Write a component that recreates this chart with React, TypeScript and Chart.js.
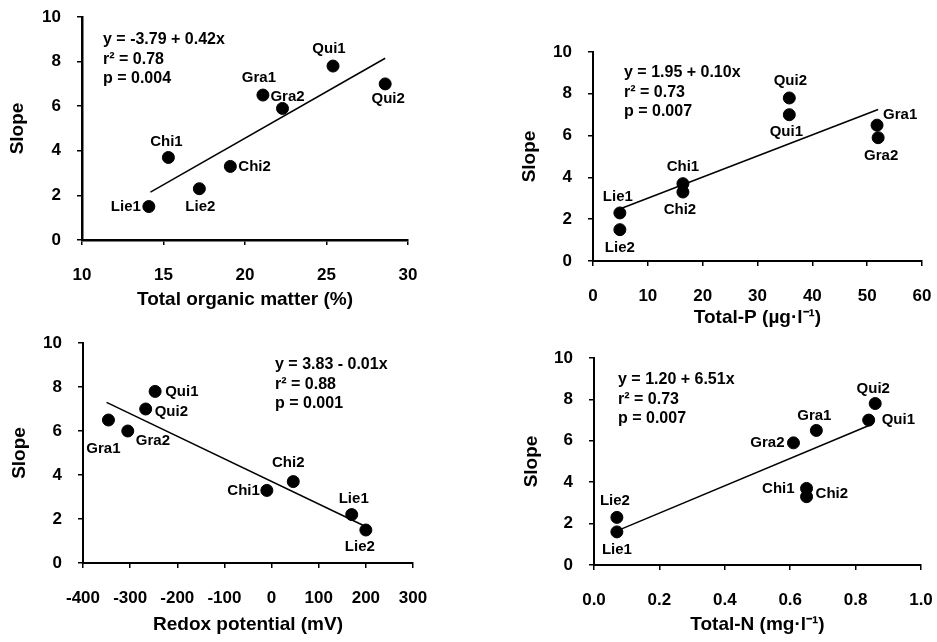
import React, { useEffect, useRef } from "react";
import { Chart, registerables } from "chart.js";

Chart.register(...registerables);

// ---------- Data ----------
// Panel A: Total organic matter
const omNames = ["Lie1", "Chi1", "Lie2", "Chi2", "Gra1", "Gra2", "Qui1", "Qui2"];
const omX = [14.1, 15.3, 17.2, 19.1, 21.1, 22.3, 25.4, 28.6];
const omSlope = [1.5, 3.7, 2.3, 3.3, 6.5, 5.9, 7.8, 7.0];
const omFitX = [14.2, 28.6];
const omFitY = [2.15, 8.15];
const omEquation = ["y = -3.79 + 0.42x", "r² = 0.78", "p = 0.004"];
const omTicksX = { min: 10, max: 30, step: 5 };

// Panel B: Total-P
const tpNames = ["Lie1", "Lie2", "Chi1", "Chi2", "Qui2", "Qui1", "Gra1", "Gra2"];
const tpX = [4.9, 4.9, 16.4, 16.4, 35.8, 35.8, 51.8, 52.0];
const tpSlope = [2.3, 1.5, 3.7, 3.3, 7.8, 7.0, 6.5, 5.9];
const tpFitX = [5.0, 52.0];
const tpFitY = [2.5, 7.25];
const tpEquation = ["y = 1.95 + 0.10x", "r² = 0.73", "p = 0.007"];
const tpTicksX = { min: 0, max: 60, step: 10 };

// Panel C: Redox potential
const rpNames = ["Gra1", "Gra2", "Qui1", "Qui2", "Chi1", "Chi2", "Lie1", "Lie2"];
const rpX = [-346, -305, -247, -267, -10, 46, 170, 200];
const rpSlope = [6.5, 6.0, 7.8, 7.0, 3.3, 3.7, 2.2, 1.5];
const rpFitX = [-350, 205];
const rpFitY = [7.3, 1.6];
const rpEquation = ["y = 3.83 - 0.01x", "r² = 0.88", "p = 0.001"];
const rpTicksX = { min: -400, max: 300, step: 100 };

// Panel D: Total-N
const tnNames = ["Lie2", "Lie1", "Gra2", "Gra1", "Qui2", "Qui1", "Chi1", "Chi2"];
const tnX = [0.07, 0.07, 0.61, 0.68, 0.86, 0.84, 0.65, 0.65];
const tnSlope = [2.3, 1.6, 5.9, 6.5, 7.8, 7.0, 3.7, 3.3];
const tnFitX = [0.07, 0.85];
const tnFitY = [1.65, 6.8];
const tnEquation = ["y = 1.20 + 6.51x", "r² = 0.73", "p = 0.007"];
const tnTicksX = { min: 0, max: 1, step: 0.2 };

const slopeTicks = { min: 0, max: 10, step: 2 };
const yTitle = "Slope";

// ---------- Label placement (style only) ----------
type Place = [CanvasTextAlign, number, number];
const omPlace: Place[] = [
  ["right", -8, 0], ["center", -2, -16], ["center", 1, 18], ["left", 8, 0],
  ["center", -4, -17], ["center", 5, -12], ["center", -4, -17], ["center", 3, 15],
];
const tpPlace: Place[] = [
  ["center", -2, -16], ["center", 0, 18], ["center", 0, -17], ["center", -3, 18],
  ["center", 1, -17], ["center", -3, 17], ["left", 6, -10], ["center", 3, 18],
];
const rpPlace: Place[] = [
  ["center", -5, 29], ["left", 8, 10], ["left", 10, 0], ["left", 9, 3],
  ["right", -7, 0], ["center", -5, -19], ["center", 2, -16], ["center", -6, 17],
];
const tnPlace: Place[] = [
  ["center", -2, -17], ["center", 0, 18], ["right", -9, 0], ["center", -2, -15],
  ["center", -2, -15], ["left", 13, 0], ["right", -12, 0], ["left", 9, -3],
];

const FONT = "'Liberation Sans', Arial, sans-serif";

type PanelCfg = {
  left: number; top: number; w: number; h: number;
  pad: { top: number; right: number; bottom: number; left: number };
  yAxisW: number; xAxisH: number; yTitlePad: number;
  border: number;
  names: string[]; xs: number[]; ys: number[];
  fitX: number[]; fitY: number[];
  eq: string[]; eqDx: number; eqDy: number;
  place: Place[];
  xTicks: { min: number; max: number; step: number };
  xTitle: string; decimals: number;
};

const panels: PanelCfg[] = [
  {
    left: 0, top: 0, w: 468, h: 320,
    pad: { top: 17, right: 60, bottom: 7, left: 0 },
    yAxisW: 82, xAxisH: 73, yTitlePad: 6.6, border: 2.5,
    names: omNames, xs: omX, ys: omSlope, fitX: omFitX, fitY: omFitY,
    eq: omEquation, eqDx: 21, eqDy: 23, place: omPlace,
    xTicks: omTicksX, xTitle: "Total organic matter (%)", decimals: 0,
  },
  {
    left: 468, top: 0, w: 469, h: 332,
    pad: { top: 52, right: 15, bottom: 1, left: 44 },
    yAxisW: 81, xAxisH: 70, yTitlePad: 6.6, border: 2,
    names: tpNames, xs: tpX, ys: tpSlope, fitX: tpFitX, fitY: tpFitY,
    eq: tpEquation, eqDx: 31, eqDy: 21, place: tpPlace,
    xTicks: tpTicksX, xTitle: "Total-P (µg·l⁻¹)", decimals: 0,
  },
  {
    left: 0, top: 320, w: 468, h: 322,
    pad: { top: 23, right: 55, bottom: 4, left: 2 },
    yAxisW: 81, xAxisH: 75, yTitlePad: 6.6, border: 2,
    names: rpNames, xs: rpX, ys: rpSlope, fitX: rpFitX, fitY: rpFitY,
    eq: rpEquation, eqDx: 192, eqDy: 22, place: rpPlace,
    xTicks: rpTicksX, xTitle: "Redox potential (mV)", decimals: 0,
  },
  {
    left: 468, top: 332, w: 469, h: 310,
    pad: { top: 26, right: 16, bottom: 4, left: 46 },
    yAxisW: 80, xAxisH: 73, yTitlePad: 6.3, border: 2,
    names: tnNames, xs: tnX, ys: tnSlope, fitX: tnFitX, fitY: tnFitY,
    eq: tnEquation, eqDx: 24, eqDy: 22, place: tnPlace,
    xTicks: tnTicksX, xTitle: "Total-N (mg·l⁻¹)", decimals: 1,
  },
];

function makeAnnotations(cfg: PanelCfg) {
  return {
    id: "annotations",
    afterDatasetsDraw(chart: any) {
      const ctx = chart.ctx as CanvasRenderingContext2D;
      const meta = chart.getDatasetMeta(0);
      ctx.save();
      ctx.fillStyle = "#000";
      ctx.textBaseline = "middle";
      ctx.font = `bold 15px ${FONT}`;
      meta.data.forEach((el: any, i: number) => {
        const [align, dx, dy] = cfg.place[i];
        ctx.textAlign = align;
        ctx.fillText(cfg.names[i], el.x + dx, el.y + dy);
      });
      ctx.font = `bold 16px ${FONT}`;
      ctx.textAlign = "left";
      const area = chart.chartArea;
      cfg.eq.forEach((line, i) => {
        ctx.fillText(line, area.left + cfg.eqDx, area.top + cfg.eqDy + i * 19.5);
      });
      ctx.restore();
    },
  };
}

function clearPadding(s: any) {
  s.paddingTop = 0;
  s.paddingBottom = 0;
  s.paddingLeft = 0;
  s.paddingRight = 0;
}

function Panel({ cfg }: { cfg: PanelCfg }) {
  const ref = useRef<HTMLCanvasElement>(null);
  useEffect(() => {
    const points = cfg.xs.map((x, i) => ({ x, y: cfg.ys[i] }));
    const fit = cfg.fitX.map((x, i) => ({ x, y: cfg.fitY[i] }));
    const tickFont = { family: FONT, size: 17, weight: "bold" };
    const titleFont = { family: FONT, size: 19, weight: "bold" };
    const chart = new Chart(ref.current as HTMLCanvasElement, {
      type: "scatter",
      data: {
        datasets: [
          {
            data: points,
            pointRadius: 6,
            pointBackgroundColor: "#000",
            pointBorderColor: "#000",
            showLine: false,
          },
          {
            data: fit,
            showLine: true,
            borderColor: "#000",
            borderWidth: 1.5,
            pointRadius: 0,
            fill: false,
          },
        ],
      },
      options: {
        responsive: false,
        animation: false,
        events: [],
        layout: { padding: cfg.pad, autoPadding: false },
        plugins: { legend: { display: false }, tooltip: { enabled: false } },
        scales: {
          x: {
            type: "linear",
            min: cfg.xTicks.min,
            max: cfg.xTicks.max,
            ticks: {
              stepSize: cfg.xTicks.step,
              color: "#000",
              font: tickFont,
              padding: 20,
              autoSkip: false,
              maxRotation: 0,
              callback: (v: any) => Number(v).toFixed(cfg.decimals),
            },
            grid: { drawOnChartArea: false, drawTicks: true, tickLength: 5, color: "#000", lineWidth: 1.5 },
            border: { display: true, color: "#000", width: cfg.border },
            title: { display: true, text: cfg.xTitle, color: "#000", font: titleFont, padding: { top: 0, bottom: 2 } },
            afterFit: (s: any) => { s.height = cfg.xAxisH; clearPadding(s); },
          },
          y: {
            type: "linear",
            min: slopeTicks.min,
            max: slopeTicks.max,
            ticks: {
              stepSize: slopeTicks.step,
              color: "#000",
              font: tickFont,
              padding: 16,
            },
            grid: { drawOnChartArea: false, drawTicks: true, tickLength: 5, color: "#000", lineWidth: 1.5 },
            border: { display: true, color: "#000", width: cfg.border },
            title: { display: true, text: yTitle, color: "#000", font: titleFont, padding: { top: cfg.yTitlePad, bottom: 0 } },
            afterFit: (s: any) => { s.width = cfg.yAxisW; clearPadding(s); },
          },
        },
      },
      plugins: [makeAnnotations(cfg)],
    } as any);
    return () => chart.destroy();
  }, [cfg]);
  return (
    <canvas
      ref={ref}
      width={cfg.w}
      height={cfg.h}
      style={{ position: "absolute", left: cfg.left, top: cfg.top, width: cfg.w, height: cfg.h }}
    />
  );
}

export default function App() {
  return (
    <div style={{ position: "absolute", left: 0, top: 0, width: 937, height: 642, background: "#fff", overflow: "hidden" }}>
      {panels.map((p, i) => (
        <Panel key={i} cfg={p} />
      ))}
    </div>
  );
}
